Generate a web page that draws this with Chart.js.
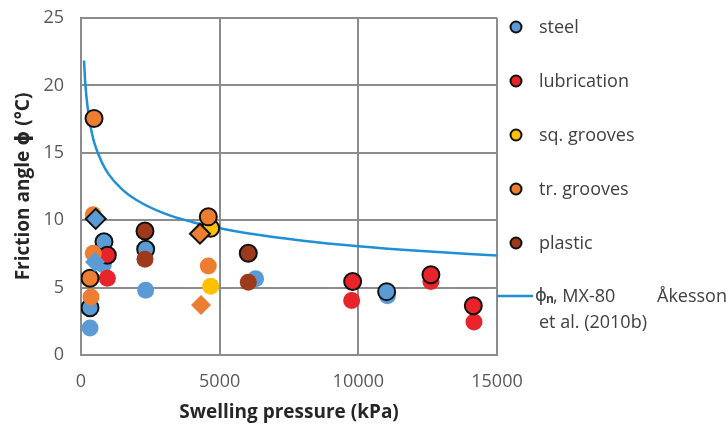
<!DOCTYPE html>
<html>
<head>
<meta charset="utf-8">
<script src="https://cdn.jsdelivr.net/npm/chart.js@4.4.0/dist/chart.umd.min.js"></script>
<style>
  html, body { margin: 0; padding: 0; background: #fff; }
</style>
</head>
<body>
<canvas id="chart" width="726" height="425"></canvas>
<script>
// swelling pressure (kPa) and friction angle (deg) per interface type
// "peak" points get the black outline, the others are plain
const steelPeakX = [325, 829, 2332, 11020];
const steelPeakY = [3.5, 8.4, 7.85, 4.7];
const steelX = [325, 805, 2332, 6297, 11050];
const steelY = [2.0, 6.7, 4.8, 5.65, 4.4];
const steelDiamondPeakX = [530];
const steelDiamondPeakY = [10.1];
const steelDiamondX = [505];
const steelDiamondY = [6.9];

const lubPeakX = [950, 9795, 12617, 14146];
const lubPeakY = [7.4, 5.45, 5.95, 3.65];
const lubX = [950, 9760, 12617, 14170];
const lubY = [5.7, 4.05, 5.45, 2.45];

const sqPeakX = [4675];
const sqPeakY = [9.4];
const sqX = [4675];
const sqY = [5.1];

const trPeakX = [470, 325, 4590];
const trPeakY = [17.55, 5.7, 10.25];
const trX = [440, 444, 360, 4590];
const trY = [10.4, 7.55, 4.3, 6.6];
const trDiamondPeakX = [4290];
const trDiamondPeakY = [9.0];
const trDiamondX = [4326];
const trDiamondY = [3.7];

const plasticPeakX = [2307, 6032];
const plasticPeakY = [9.2, 7.55];
const plasticX = [2307, 6032];
const plasticY = [7.1, 5.4];

const curveX = [110, 150, 200, 300, 400, 500, 750, 1000, 1500, 2000, 3000, 4000, 5000, 6000, 8000, 10000, 12000, 15000];
const curveY = [21.85, 20.3, 19.1, 17.45, 16.4, 15.6, 14.3, 13.4, 12.25, 11.5, 10.5, 9.87, 9.4, 9.03, 8.48, 8.07, 7.75, 7.38];

const xTicks = [0, 5000, 10000, 15000];
const yTicks = [0, 5, 10, 15, 20, 25];

const colors = {
  steel: '#5b9bd5',
  lub: '#e8242a',
  sq: '#ffc000',
  tr: '#ed7d31',
  plastic: '#9e3a1b',
  curve: '#1f8fd6'
};

function pts(xs, ys) {
  return xs.map((x, i) => ({ x: x, y: ys[i] }));
}

function scatter(label, xs, ys, color, outlined, style, legend) {
  return {
    type: 'scatter',
    label: label,
    data: pts(xs, ys),
    pointStyle: style || 'circle',
    pointRadius: style === 'rectRot' ? 10 : 8.5,
    pointBackgroundColor: color,
    pointBorderColor: outlined ? '#111' : color,
    pointBorderWidth: outlined ? 2 : 0,
    showInLegend: !!legend
  };
}

// bottom-most first
const layers = [
  {
    type: 'line',
    label: 'curve',
    data: pts(curveX, curveY),
    borderColor: colors.curve,
    borderWidth: 2.5,
    pointRadius: 0,
    cubicInterpolationMode: 'monotone',
    fill: false
  },
  scatter('steel', steelX, steelY, colors.steel, false),
  scatter('steel', steelPeakX, steelPeakY, colors.steel, true, 'circle', true),
  scatter('lubrication', lubX, lubY, colors.lub, false),
  scatter('lubrication', lubPeakX, lubPeakY, colors.lub, true, 'circle', true),
  scatter('sq. grooves', sqX, sqY, colors.sq, false),
  scatter('sq. grooves', sqPeakX, sqPeakY, colors.sq, true, 'circle', true),
  scatter('tr. grooves', trX, trY, colors.tr, false),
  scatter('tr. grooves', trPeakX, trPeakY, colors.tr, true, 'circle', true),
  scatter('plastic', plasticX, plasticY, colors.plastic, false),
  scatter('plastic', plasticPeakX, plasticPeakY, colors.plastic, true, 'circle', true),
  scatter('steel', steelDiamondX, steelDiamondY, colors.steel, false, 'rectRot'),
  scatter('steel', steelDiamondPeakX, steelDiamondPeakY, colors.steel, true, 'rectRot'),
  scatter('tr. grooves', trDiamondX, trDiamondY, colors.tr, false, 'rectRot'),
  scatter('tr. grooves', trDiamondPeakX, trDiamondPeakY, colors.tr, true, 'rectRot')
];
// later layers on top
layers.forEach((d, i) => { d.order = layers.length - i; });

const textFont = '"Open Sans", "DejaVu Sans", sans-serif';

// hand-drawn legend to the right of the plot
const sideLegend = {
  id: 'sideLegend',
  afterDraw(chart) {
    const ctx = chart.ctx;
    const items = chart.data.datasets.filter(d => d.showInLegend);
    const mx = 516, tx = 539, top = 27, step = 54;
    ctx.save();
    ctx.textBaseline = 'middle';
    ctx.font = '18px ' + textFont;
    items.forEach((d, i) => {
      const y = top + i * step;
      ctx.beginPath();
      ctx.arc(mx, y, 5.5, 0, Math.PI * 2);
      ctx.fillStyle = d.pointBackgroundColor;
      ctx.fill();
      ctx.lineWidth = 2;
      ctx.strokeStyle = '#111';
      ctx.stroke();
      ctx.fillStyle = '#404040';
      ctx.fillText(d.label, tx, y + 1);
    });

    const y = top + items.length * step - 1;
    ctx.beginPath();
    ctx.moveTo(chart.chartArea.right, y);
    ctx.lineTo(533, y);
    ctx.strokeStyle = colors.curve;
    ctx.lineWidth = 2.5;
    ctx.stroke();

    ctx.fillStyle = '#404040';
    ctx.font = '18px ' + textFont;
    ctx.fillText('ϕ', 535, y);
    ctx.font = 'bold 12px ' + textFont;
    ctx.fillText('n', 546, y + 4);
    ctx.font = '18px ' + textFont;
    ctx.fillText(', MX-80', 553, y + 1);
    ctx.fillText('Åkesson', 657, y + 1);
    ctx.fillText('et al. (2010b)', tx, y + 27);
    ctx.restore();
  }
};

new Chart(document.getElementById('chart'), {
  data: { datasets: layers },
  plugins: [sideLegend],
  options: {
    responsive: false,
    animation: false,
    layout: { padding: { top: 18, right: 229, left: 0, bottom: 0 } },
    plugins: {
      legend: { display: false },
      tooltip: { enabled: false }
    },
    scales: {
      x: {
        type: 'linear',
        min: 0,
        max: 15000,
        afterBuildTicks(scale) { scale.ticks = xTicks.map(v => ({ value: v })); },
        afterFit(scale) {
          scale.height = 70;
          scale.paddingLeft = 0;
          scale.paddingRight = 0;
        },
        ticks: {
          color: '#595959',
          font: { family: textFont, size: 18 },
          padding: 16,
          maxRotation: 0,
          callback: v => String(v)
        },
        grid: { color: '#8c8c8c', lineWidth: 2, drawTicks: false },
        border: { color: '#8c8c8c', width: 2 },
        title: {
          display: true,
          text: 'Swelling pressure (kPa)',
          color: '#262626',
          font: { family: textFont, size: 19, weight: 'bold' },
          padding: { top: 2, bottom: 1 }
        }
      },
      y: {
        type: 'linear',
        min: 0,
        max: 25,
        afterBuildTicks(scale) { scale.ticks = yTicks.map(v => ({ value: v })); },
        afterFit(scale) {
          scale.width = 81;
          scale.paddingTop = 0;
          scale.paddingBottom = 0;
        },
        ticks: { color: '#595959', font: { family: textFont, size: 18 }, padding: 17 },
        grid: { color: '#8c8c8c', lineWidth: 2, drawTicks: false },
        border: { color: '#8c8c8c', width: 2 },
        title: {
          display: true,
          text: 'Friction angle ϕ (°C)',
          color: '#262626',
          font: { family: textFont, size: 19, weight: 'bold' },
          padding: { top: 12, bottom: 0 }
        }
      }
    }
  }
});
</script>
</body>
</html>
